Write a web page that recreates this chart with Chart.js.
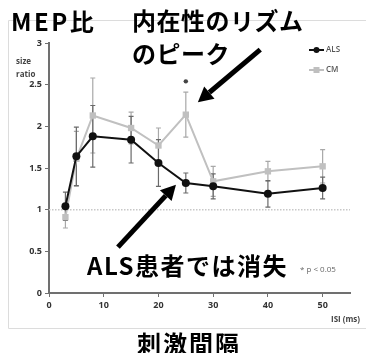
<!DOCTYPE html>
<html>
<head>
<meta charset="utf-8">
<script src="https://cdn.jsdelivr.net/npm/chart.js@4"></script>
<style>
  body { margin: 0; background: #fff; }
  #wrap { position: relative; width: 366px; height: 353px; overflow: hidden; }
  #chart { position: absolute; left: 0; top: 0; }
  .t { position: absolute; white-space: nowrap; color: #000; line-height: 1; }
  .big { font-family: "Noto Sans CJK JP", sans-serif; font-weight: 700; font-size: 24px; }
  .small { font-family: "Open Sans", "Liberation Sans", sans-serif; font-weight: 700; font-size: 8px; color: #444; }
</style>
</head>
<body>
<div id="wrap">
  <canvas id="chart" width="366" height="353"></canvas>
  <div class="t big" style="left:11px;top:9px;letter-spacing:2.5px;">MEP比</div>
  <div class="t big" style="left:132px;top:8px;letter-spacing:0.5px;">内在性のリズム</div>
  <div class="t big" style="left:132px;top:41px;letter-spacing:0.5px;">のピーク</div>
  <div class="t big" style="left:87px;top:253px;letter-spacing:1.5px;">ALS患者では消失</div>
  <div class="t big" style="left:137px;top:331px;letter-spacing:2px;">刺激間隔</div>
  <div class="t small" style="left:16px;top:54px;line-height:13px;">size<br>ratio</div>
  <div class="t small" style="left:331px;top:315px;">ISI (ms)</div>
  <div class="t small" style="left:300px;top:265px;font-weight:400;color:#666;">* p &lt; 0.05</div>
</div>
<script>
// ISI (ms)
const isi = [3, 5, 8, 15, 20, 25, 30, 40, 50];
// MEP size ratio
const als = [1.04, 1.64, 1.88, 1.84, 1.56, 1.32, 1.28, 1.19, 1.26];
const alsErr = [0.17, 0.35, 0.37, 0.28, 0.28, 0.12, 0.15, 0.16, 0.13];
const cm = [0.91, 1.61, 2.13, 1.98, 1.77, 2.14, 1.34, 1.46, 1.52];
const cmErr = [0.13, 0.33, 0.45, 0.19, 0.21, 0.27, 0.18, 0.12, 0.20];
const xTicks = [0, 10, 20, 30, 40, 50];
const yTicks = [0, 0.5, 1, 1.5, 2, 2.5, 3];
// significant point (p < 0.05)
const sigIsi = [25];
const sigY = [2.54];

const tickFont = { family: "'Open Sans', 'Liberation Sans', sans-serif", size: 9, weight: 'bold' };

function drawArrow(ctx, x1, y1, x2, y2) {
    const ang = Math.atan2(y2 - y1, x2 - x1);
    const head = 15;
    const bx = x2 - head * Math.cos(ang);
    const by = y2 - head * Math.sin(ang);
    ctx.save();
    ctx.strokeStyle = '#000';
    ctx.fillStyle = '#000';
    ctx.lineWidth = 5;
    ctx.beginPath();
    ctx.moveTo(x1, y1);
    ctx.lineTo(bx, by);
    ctx.stroke();
    ctx.beginPath();
    ctx.moveTo(x2, y2);
    ctx.lineTo(bx + 8 * Math.sin(ang), by - 8 * Math.cos(ang));
    ctx.lineTo(bx - 8 * Math.sin(ang), by + 8 * Math.cos(ang));
    ctx.closePath();
    ctx.fill();
    ctx.restore();
}

const extras = {
    id: 'extras',
    beforeDraw(chart) {
        const ctx = chart.ctx;
        ctx.save();
        ctx.strokeStyle = '#dcdcdc';
        ctx.lineWidth = 1;
        ctx.beginPath();
        ctx.moveTo(366, 20.5);
        ctx.lineTo(8.5, 20.5);
        ctx.lineTo(8.5, 328.5);
        ctx.lineTo(366, 328.5);
        ctx.stroke();
        ctx.restore();
    },
    beforeDatasetsDraw(chart) {
        const ctx = chart.ctx;
        const xs = chart.scales.x, ys = chart.scales.y;
        // reference line at ratio 1
        ctx.save();
        ctx.strokeStyle = '#c8c8c8';
        ctx.lineWidth = 1.5;
        ctx.setLineDash([1.5, 1.5]);
        ctx.beginPath();
        ctx.moveTo(chart.chartArea.left, ys.getPixelForValue(1));
        ctx.lineTo(chart.chartArea.right, ys.getPixelForValue(1));
        ctx.stroke();
        ctx.setLineDash([]);
        // error bars
        const bars = [[cm, cmErr, '#a8a8a8'], [als, alsErr, '#6a6a6a']];
        bars.forEach(([vals, errs, col]) => {
            ctx.strokeStyle = col;
            ctx.lineWidth = 1.2;
            vals.forEach((v, i) => {
                const px = xs.getPixelForValue(isi[i]);
                const top = ys.getPixelForValue(v + errs[i]);
                const bot = ys.getPixelForValue(v - errs[i]);
                ctx.beginPath();
                ctx.moveTo(px, top); ctx.lineTo(px, bot);
                ctx.moveTo(px - 2.5, top); ctx.lineTo(px + 2.5, top);
                ctx.moveTo(px - 2.5, bot); ctx.lineTo(px + 2.5, bot);
                ctx.stroke();
            });
        });
        ctx.restore();
    },
    afterDatasetsDraw(chart) {
        const ctx = chart.ctx;
        const xs = chart.scales.x, ys = chart.scales.y;
        // asterisk
        ctx.save();
        ctx.fillStyle = '#444';
        sigIsi.forEach((s, i) => {
            ctx.beginPath();
            ctx.arc(xs.getPixelForValue(s), ys.getPixelForValue(sigY[i]), 2.2, 0, Math.PI * 2);
            ctx.fill();
        });
        // arrows: to the CM peak, and to the ALS curve
        drawArrow(ctx, xs.getPixelForValue(38.6), ys.getPixelForValue(2.92),
                       xs.getPixelForValue(27.2), ys.getPixelForValue(2.29));
        drawArrow(ctx, xs.getPixelForValue(12.6), ys.getPixelForValue(0.55),
                       xs.getPixelForValue(23.2), ys.getPixelForValue(1.30));
        // legend
        const items = [['ALS', '#111', 'circle', 50], ['CM', '#bfbfbf', 'rect', 70]];
        ctx.font = "600 8px 'Open Sans', sans-serif";
        ctx.textBaseline = 'middle';
        items.forEach(([name, col, shape, y]) => {
            ctx.strokeStyle = col;
            ctx.fillStyle = col;
            ctx.lineWidth = 2;
            ctx.beginPath();
            ctx.moveTo(309, y); ctx.lineTo(324, y);
            ctx.stroke();
            ctx.beginPath();
            if (shape === 'circle') ctx.arc(316.5, y, 3, 0, Math.PI * 2);
            else ctx.rect(313.5, y - 3, 6, 6);
            ctx.fill();
            ctx.fillStyle = '#555';
            ctx.fillText(name, 326, y);
        });
        ctx.restore();
    }
};

const ctx = document.getElementById('chart').getContext('2d');
const mepChart = new Chart(ctx, {
    type: 'line',
    data: {
        datasets: [{
            label: 'ALS',
            data: isi.map((x, i) => ({ x: x, y: als[i] })),
            borderColor: '#111',
            backgroundColor: '#111',
            borderWidth: 2,
            pointStyle: 'circle',
            pointRadius: 4,
            pointBorderWidth: 0
        }, {
            label: 'CM',
            data: isi.map((x, i) => ({ x: x, y: cm[i] })),
            borderColor: '#c0c0c0',
            backgroundColor: '#c0c0c0',
            borderWidth: 2,
            pointStyle: 'rect',
            pointRadius: 4.5,
            pointBorderWidth: 0
        }]
    },
    options: {
        responsive: false,
        animation: false,
        devicePixelRatio: 1,
        layout: { padding: { left: 0, right: 16, top: 43, bottom: 30 } },
        plugins: { legend: { display: false }, tooltip: { enabled: false } },
        scales: {
            x: {
                type: 'linear',
                min: 0,
                max: 55,
                afterBuildTicks: s => { s.ticks = xTicks.map(v => ({ value: v })); },
                afterFit: s => { s.height = 30; },
                ticks: { font: tickFont, color: '#333', padding: 3, maxRotation: 0, callback: v => String(v) },
                grid: { drawOnChartArea: false, tickLength: 4, tickColor: '#707070' },
                border: { color: '#707070', width: 2 }
            },
            y: {
                min: 0,
                max: 3,
                afterBuildTicks: s => { s.ticks = yTicks.map(v => ({ value: v })); },
                afterFit: s => { s.width = 49; },
                ticks: { font: tickFont, color: '#333', padding: 3, callback: v => String(v) },
                grid: { drawOnChartArea: false, tickLength: 4, tickColor: '#707070' },
                border: { color: '#707070', width: 2 }
            }
        }
    },
    plugins: [extras]
});
</script>
</body>
</html>
